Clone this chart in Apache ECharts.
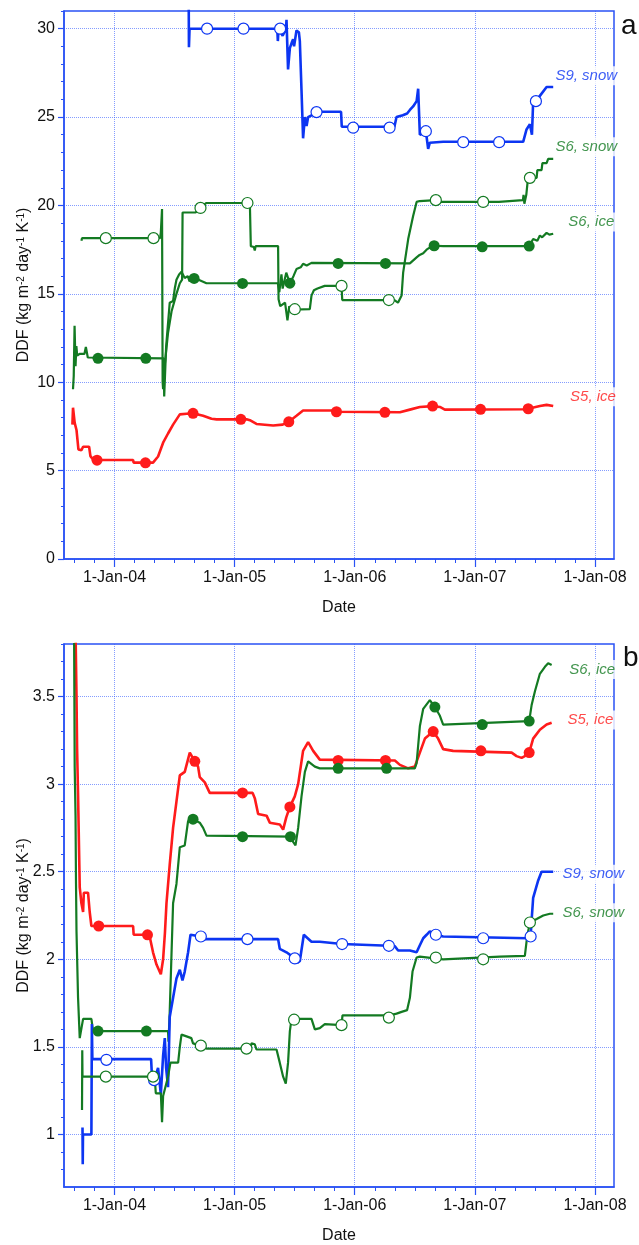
<!DOCTYPE html>
<html><head><meta charset="utf-8">
<script src="https://cdn.jsdelivr.net/npm/echarts@6/dist/echarts.min.js"></script>
<style>html,body{margin:0;padding:0;background:#fff}#c{width:639px;height:1245px}</style>
</head><body><div id="c"></div>
<script>
// x values are decimal years (2004.0 = 1-Jan-04)
const yearTicks = [2004, 2005, 2006, 2007, 2008];
const yTicksA = [0, 5, 10, 15, 20, 25, 30];
const yTicksB = [1, 1.5, 2, 2.5, 3, 3.5];
const seriesNames = ['S9, snow', 'S6, snow', 'S6, ice', 'S5, ice'];

// ---- Panel a ----
const a_s9_line = [[2004.617,33],[2004.620,28.95],[2004.625,30.0],[2005.355,30.0],[2005.360,29.3],[2005.366,30.0],[2005.380,30.0],[2005.400,29.6],[2005.428,30.0],[2005.432,30.5],[2005.445,27.7],[2005.460,28.9],[2005.475,29.2],[2005.487,29.4],[2005.495,29.0],[2005.515,29.9],[2005.535,29.8],[2005.543,29.3],[2005.557,26.5],[2005.570,23.8],[2005.585,25.0],[2005.599,24.5],[2005.612,25.0],[2005.640,25.1],[2005.668,25.3],[2005.886,25.3],[2005.892,24.45],[2006.330,24.45],[2006.348,25.0],[2006.400,25.1],[2006.436,25.2],[2006.459,25.4],[2006.486,25.6],[2006.515,25.9],[2006.528,26.6],[2006.542,24.0],[2006.570,24.1],[2006.592,24.2],[2006.611,23.2],[2006.625,23.55],[2006.736,23.6],[2007.402,23.6],[2007.430,24.3],[2007.458,24.6],[2007.475,24.0],[2007.485,25.85],[2007.508,25.9],[2007.541,26.2],[2007.597,26.7],[2007.652,26.7]];
const a_s9_marks = [[2004.771,30.0],[2005.074,30.0],[2005.379,30.0],[2005.682,25.28],[2005.987,24.4],[2006.290,24.4],[2006.592,24.2],[2006.903,23.58],[2007.202,23.58],[2007.508,25.9]];

const a_s6s_line = [[2003.725,18.0],[2003.730,18.15],[2004.380,18.15],[2004.386,18.48],[2004.393,18.5],[2004.396,19.8],[2004.401,10.0],[2004.405,9.6],[2004.419,11.0],[2004.446,12.8],[2004.475,14.0],[2004.516,15.0],[2004.544,15.6],[2004.563,15.8],[2004.567,19.6],[2004.677,19.6],[2004.690,19.75],[2004.716,19.86],[2004.738,20.0],[2004.766,20.14],[2005.127,20.14],[2005.135,17.7],[2005.160,17.65],[2005.168,17.45],[2005.175,17.7],[2005.362,17.7],[2005.366,14.7],[2005.380,14.3],[2005.420,14.5],[2005.440,13.5],[2005.455,14.3],[2005.470,14.1],[2005.626,14.13],[2005.640,14.9],[2005.660,15.2],[2005.690,15.3],[2005.750,15.45],[2005.890,15.45],[2005.896,14.65],[2006.330,14.65],[2006.360,14.5],[2006.390,14.9],[2006.403,16.2],[2006.445,18.1],[2006.486,19.4],[2006.515,20.2],[2006.540,20.25],[2006.675,20.3],[2006.700,20.2],[2007.200,20.2],[2007.208,20.3],[2007.400,20.3],[2007.405,20.6],[2007.412,20.1],[2007.428,20.6],[2007.440,21.4],[2007.458,21.56],[2007.514,21.56],[2007.520,22.0],[2007.555,22.0],[2007.562,22.4],[2007.597,22.4],[2007.610,22.64],[2007.652,22.64]];
const a_s6s_marks = [[2003.928,18.15],[2004.325,18.15],[2004.716,19.86],[2005.107,20.14],[2005.501,14.13],[2005.890,15.45],[2006.284,14.65],[2006.675,20.3],[2007.069,20.2],[2007.458,21.56]];

const a_s6i_line = [[2003.655,9.6],[2003.661,10.35],[2003.668,13.2],[2003.676,10.9],[2003.683,12.05],[2003.690,11.5],[2003.710,11.6],[2003.750,11.6],[2003.762,12.0],[2003.778,11.4],[2004.410,11.35],[2004.414,9.2],[2004.430,12.0],[2004.460,14.5],[2004.488,14.6],[2004.502,15.3],[2004.516,15.8],[2004.538,16.1],[2004.558,16.25],[2004.585,15.9],[2004.610,16.0],[2004.625,15.7],[2004.640,15.95],[2004.663,15.87],[2004.700,15.8],[2004.766,15.6],[2005.360,15.6],[2005.372,15.1],[2005.390,16.1],[2005.400,15.3],[2005.430,16.2],[2005.460,15.6],[2005.490,16.0],[2005.515,16.4],[2005.550,16.5],[2005.570,16.7],[2005.600,16.6],[2005.640,16.75],[2006.459,16.72],[2006.515,17.06],[2006.540,17.2],[2006.570,17.3],[2006.598,17.5],[2006.620,17.6],[2006.661,17.72],[2006.736,17.7],[2007.452,17.7],[2007.485,18.1],[2007.520,18.0],[2007.541,18.3],[2007.560,18.2],[2007.597,18.45],[2007.620,18.35],[2007.652,18.4]];
const a_s6i_marks = [[2003.863,11.35],[2004.261,11.35],[2004.663,15.87],[2005.066,15.59],[2005.460,15.6],[2005.862,16.72],[2006.256,16.72],[2006.661,17.72],[2007.061,17.66],[2007.452,17.7]];

const a_s5_line = [[2003.650,7.6],[2003.655,8.56],[2003.669,7.7],[2003.684,7.3],[2003.700,6.2],[2003.725,6.15],[2003.739,6.35],[2003.789,6.35],[2003.800,5.82],[2003.825,5.6],[2004.155,5.6],[2004.160,5.45],[2004.321,5.45],[2004.363,5.8],[2004.405,6.58],[2004.446,7.1],[2004.488,7.6],[2004.544,8.18],[2004.600,8.22],[2004.654,8.24],[2004.738,8.1],[2004.808,7.93],[2004.850,7.9],[2005.100,7.9],[2005.127,7.85],[2005.182,7.64],[2005.321,7.55],[2005.400,7.6],[2005.451,7.76],[2005.515,8.1],[2005.570,8.4],[2005.820,8.4],[2005.848,8.33],[2006.376,8.3],[2006.459,8.45],[2006.542,8.6],[2006.648,8.65],[2006.709,8.6],[2006.750,8.45],[2007.402,8.47],[2007.444,8.5],[2007.541,8.65],[2007.597,8.72],[2007.652,8.65]];
const a_s5_marks = [[2003.855,5.59],[2004.258,5.44],[2004.654,8.24],[2005.052,7.9],[2005.451,7.76],[2005.848,8.33],[2006.251,8.3],[2006.648,8.65],[2007.047,8.47],[2007.444,8.5]];

// ---- Panel b ----
const b_s5_line = [[2003.667,4.3],[2003.684,3.5],[2003.689,3.2],[2003.697,2.94],[2003.711,2.41],[2003.725,2.32],[2003.739,2.27],[2003.745,2.38],[2003.780,2.38],[2003.794,2.27],[2003.808,2.19],[2004.155,2.19],[2004.160,2.14],[2004.290,2.14],[2004.321,2.04],[2004.350,1.97],[2004.386,1.915],[2004.405,2.0],[2004.420,2.15],[2004.433,2.32],[2004.460,2.54],[2004.488,2.75],[2004.516,2.90],[2004.544,3.05],[2004.585,3.07],[2004.627,3.18],[2004.669,3.13],[2004.696,3.10],[2004.710,3.04],[2004.752,3.01],[2004.793,2.95],[2005.150,2.95],[2005.168,2.92],[2005.196,2.83],[2005.266,2.82],[2005.293,2.78],[2005.376,2.77],[2005.404,2.74],[2005.430,2.81],[2005.460,2.87],[2005.501,2.93],[2005.529,3.0],[2005.570,3.19],[2005.612,3.24],[2005.654,3.19],[2005.709,3.14],[2006.334,3.135],[2006.376,3.11],[2006.445,3.09],[2006.500,3.10],[2006.542,3.18],[2006.584,3.26],[2006.653,3.30],[2006.694,3.26],[2006.736,3.20],[2006.819,3.19],[2007.306,3.18],[2007.347,3.16],[2007.389,3.15],[2007.416,3.16],[2007.452,3.18],[2007.485,3.26],[2007.541,3.31],[2007.597,3.34],[2007.639,3.35]];
const b_s5_marks = [[2003.869,2.19],[2004.275,2.14],[2004.669,3.13],[2005.066,2.95],[2005.460,2.87],[2005.862,3.135],[2006.256,3.135],[2006.653,3.30],[2007.050,3.19],[2007.452,3.18]];

const b_s6i_line = [[2003.661,4.3],[2003.669,3.1],[2003.676,2.82],[2003.680,2.43],[2003.684,2.16],[2003.697,1.78],[2003.711,1.55],[2003.725,1.55],[2003.739,1.66],[2003.808,1.66],[2003.822,1.59],[2004.446,1.59],[2004.450,1.53],[2004.460,1.70],[2004.488,2.32],[2004.516,2.43],[2004.544,2.64],[2004.585,2.65],[2004.613,2.79],[2004.654,2.80],[2004.710,2.78],[2004.738,2.75],[2004.766,2.706],[2005.470,2.70],[2005.487,2.67],[2005.507,2.65],[2005.529,2.75],[2005.557,2.93],[2005.585,3.07],[2005.612,3.13],[2005.668,3.10],[2005.709,3.09],[2006.500,3.09],[2006.515,3.12],[2006.542,3.33],[2006.570,3.43],[2006.625,3.48],[2006.667,3.44],[2006.709,3.39],[2006.736,3.34],[2007.452,3.36],[2007.472,3.45],[2007.500,3.53],[2007.541,3.63],[2007.583,3.67],[2007.610,3.69],[2007.639,3.68]];
const b_s6i_marks = [[2003.863,1.59],[2004.266,1.59],[2004.654,2.80],[2005.066,2.70],[2005.465,2.70],[2005.862,3.09],[2006.265,3.09],[2006.667,3.44],[2007.061,3.34],[2007.452,3.36]];

const b_s9_line = [[2003.734,1.04],[2003.736,0.83],[2003.738,1.0],[2003.808,1.0],[2003.812,1.63],[2003.816,1.43],[2004.305,1.43],[2004.310,1.36],[2004.330,1.31],[2004.363,1.38],[2004.386,1.23],[2004.405,1.45],[2004.419,1.55],[2004.430,1.38],[2004.446,1.27],[2004.460,1.67],[2004.488,1.78],[2004.516,1.89],[2004.544,1.94],[2004.566,1.88],[2004.585,1.93],[2004.613,2.04],[2004.633,2.14],[2004.719,2.13],[2004.752,2.115],[2005.362,2.115],[2005.376,2.06],[2005.432,2.04],[2005.501,2.005],[2005.524,1.98],[2005.543,1.99],[2005.576,2.14],[2005.640,2.10],[2005.709,2.10],[2005.895,2.087],[2006.284,2.077],[2006.334,2.075],[2006.361,2.05],[2006.459,2.05],[2006.515,2.04],[2006.542,2.08],[2006.570,2.12],[2006.598,2.14],[2006.625,2.16],[2006.675,2.14],[2006.736,2.13],[2007.440,2.12],[2007.464,2.13],[2007.475,2.25],[2007.485,2.35],[2007.527,2.45],[2007.555,2.50],[2007.652,2.50]];
const b_s9_marks = [[2003.933,1.426],[2004.330,1.31],[2004.719,2.13],[2005.107,2.115],[2005.501,2.005],[2005.895,2.087],[2006.284,2.077],[2006.675,2.14],[2007.069,2.12],[2007.464,2.13]];

const b_s6s_line = [[2003.730,1.14],[2003.732,1.48],[2003.734,1.33],[2004.335,1.33],[2004.344,1.235],[2004.386,1.235],[2004.396,1.07],[2004.405,1.22],[2004.446,1.33],[2004.466,1.41],[2004.530,1.41],[2004.544,1.50],[2004.558,1.57],[2004.600,1.56],[2004.640,1.55],[2004.654,1.52],[2004.719,1.507],[2004.766,1.49],[2005.130,1.49],[2005.141,1.52],[2005.168,1.515],[2005.182,1.485],[2005.349,1.485],[2005.376,1.41],[2005.404,1.33],[2005.426,1.29],[2005.445,1.41],[2005.460,1.59],[2005.474,1.66],[2005.640,1.66],[2005.668,1.60],[2005.709,1.607],[2005.751,1.63],[2005.890,1.624],[2005.898,1.68],[2006.290,1.68],[2006.348,1.69],[2006.390,1.70],[2006.436,1.71],[2006.459,1.78],[2006.481,1.93],[2006.515,2.01],[2006.542,2.015],[2006.736,2.0],[2007.208,2.015],[2007.416,2.02],[2007.435,2.13],[2007.458,2.21],[2007.514,2.23],[2007.569,2.25],[2007.624,2.26],[2007.652,2.26]];
const b_s6s_marks = [[2003.928,1.33],[2004.321,1.33],[2004.719,1.507],[2005.099,1.49],[2005.495,1.655],[2005.890,1.624],[2006.284,1.667],[2006.675,2.01],[2007.069,2.0],[2007.458,2.21]];

// ---- styling / layout ----
const BLUE = '#0c35f2', GREEN = '#137a22', RED = '#ff1b1b';
const AX = '#2a52f5', GRIDC = 'rgba(50,90,255,0.6)';
const FONT = '"Liberation Sans", Arial, Helvetica, sans-serif';
const XMIN = 2003.58, XMAX = 2008.158;

const minorX = [];
for (let m = 8; m <= 62; m += 2) { const v = 2003 + m / 12; if (v <= XMAX) minorX.push(+v.toFixed(4)); }
const minorYA = []; for (let v = 1; v <= 31; v++) minorYA.push(v);
const minorYB = []; for (let k = 8; k <= 38; k++) minorYB.push(+(k / 10).toFixed(1));

const yName = 'DDF (kg m{sup|-2} day{sup|-1} K{sup|-1})';

function xAxes(g) {
  return [{
    type: 'value', gridIndex: g, min: XMIN, max: XMAX,
    name: 'Date', nameLocation: 'middle', nameGap: 41, nameMoveOverlap: false,
    nameTextStyle: { fontSize: 16, color: '#111', fontFamily: FONT },
    axisLine: { show: true, onZero: false, lineStyle: { color: AX, width: 1.5 } },
    axisTick: { show: true, length: 8, customValues: yearTicks, lineStyle: { color: AX, width: 1.2 } },
    axisLabel: { customValues: yearTicks, fontSize: 16, color: '#111', fontFamily: FONT, margin: 11,
      formatter: v => '1-Jan-' + String(Math.round(v)).slice(2) },
    splitLine: { show: true, lineStyle: { color: GRIDC, width: 1, type: 'dotted' } }
  }, {
    type: 'value', gridIndex: g, min: XMIN, max: XMAX, position: 'bottom',
    axisLine: { show: false }, axisLabel: { show: false }, splitLine: { show: false },
    axisTick: { show: true, length: 4, customValues: minorX, lineStyle: { color: AX, width: 1 } }
  }];
}
function yAxes(g, min, max, ticks, minor) {
  return [{
    type: 'value', gridIndex: g, min, max, position: 'left',
    name: yName, nameLocation: 'middle', nameGap: 32, nameRotate: 90, nameMoveOverlap: false,
    nameTextStyle: { fontSize: 16, color: '#111', fontFamily: FONT,
      rich: { sup: { fontSize: 10, color: '#111', fontFamily: FONT, verticalAlign: 'top', padding: [0, 0, 6, 0] } } },
    axisLine: { show: true, onZero: false, lineStyle: { color: AX, width: 1.5 } },
    axisTick: { show: true, length: 6, customValues: ticks, lineStyle: { color: AX, width: 1.2 } },
    axisLabel: { customValues: ticks, fontSize: 16, color: '#111', fontFamily: FONT, margin: 9 },
    splitLine: { show: true, lineStyle: { color: GRIDC, width: 1, type: 'dotted' } }
  }, {
    type: 'value', gridIndex: g, min, max, position: 'left',
    axisLine: { show: false }, axisLabel: { show: false }, splitLine: { show: false },
    axisTick: { show: true, length: 3, customValues: minor, lineStyle: { color: AX, width: 1 } }
  }];
}
function line(data, color, width, g) {
  return { type: 'line', xAxisIndex: g * 2, yAxisIndex: g * 2, data, showSymbol: false, symbol: 'none',
    lineStyle: { color, width }, itemStyle: { color }, z: 3, silent: true, clip: true };
}
function marks(data, color, filled, g) {
  return { type: 'scatter', xAxisIndex: g * 2, yAxisIndex: g * 2, data, symbol: 'circle', symbolSize: 11,
    itemStyle: { color: filled ? color : '#ffffff', borderColor: color, borderWidth: filled ? 0 : 1.2, opacity: 1 },
    z: 4, silent: true };
}
function tag(name, x, y, color, g) {
  return { type: 'scatter', xAxisIndex: g * 2, yAxisIndex: g * 2, symbolSize: 1, z: 6, silent: true,
    itemStyle: { color: 'rgba(0,0,0,0)' },
    data: [{ name, value: [x, y] }],
    label: { show: true, position: 'right', distance: 0, formatter: '{b}', color, fontSize: 15,
      fontStyle: 'italic', fontFamily: FONT, backgroundColor: '#fff', padding: [2, 3] } };
}

const option = {
  animation: false,
  backgroundColor: '#fff',
  title: [
    { text: 'a', left: 621, top: 12, padding: 0, textStyle: { fontSize: 28, fontWeight: 'normal', color: '#111', fontFamily: FONT } },
    { text: 'b', left: 623, top: 644, padding: 0, textStyle: { fontSize: 28, fontWeight: 'normal', color: '#111', fontFamily: FONT } }
  ],
  grid: [
    { left: 64, top: 11, width: 550, height: 548, show: true, borderColor: AX, borderWidth: 1.5, backgroundColor: 'transparent' },
    { left: 64, top: 644, width: 550, height: 548, show: true, borderColor: AX, borderWidth: 1.5, backgroundColor: 'transparent' }
  ],
  xAxis: [...xAxes(0), ...xAxes(1)],
  yAxis: [...yAxes(0, 0, 31, yTicksA, minorYA), ...yAxes(1, 0.7, 3.8, yTicksB, minorYB)],
  series: [
    line(a_s9_line, BLUE, 2.6, 0), line(a_s6s_line, GREEN, 2.2, 0), line(a_s6i_line, GREEN, 2.2, 0), line(a_s5_line, RED, 2.6, 0),
    marks(a_s9_marks, BLUE, false, 0), marks(a_s6s_marks, GREEN, false, 0), marks(a_s6i_marks, GREEN, true, 0), marks(a_s5_marks, RED, true, 0),
    tag(seriesNames[0], 2007.641, 27.34, BLUE, 0), tag(seriesNames[1], 2007.641, 23.32, GREEN, 0),
    tag(seriesNames[2], 2007.749, 19.06, GREEN, 0), tag(seriesNames[3], 2007.763, 9.18, RED, 0),

    line(b_s5_line, RED, 2.6, 1), line(b_s6i_line, GREEN, 2.2, 1), line(b_s9_line, BLUE, 2.6, 1), line(b_s6s_line, GREEN, 2.2, 1),
    marks(b_s5_marks, RED, true, 1), marks(b_s6i_marks, GREEN, true, 1), marks(b_s9_marks, BLUE, false, 1), marks(b_s6s_marks, GREEN, false, 1),
    tag(seriesNames[2], 2007.757, 3.654, GREEN, 1), tag(seriesNames[3], 2007.741, 3.366, RED, 1),
    tag(seriesNames[0], 2007.700, 2.486, BLUE, 1), tag(seriesNames[1], 2007.700, 2.266, GREEN, 1)
  ]
};
const chart = echarts.init(document.getElementById('c'), null, { renderer: 'canvas' });
chart.setOption(option);
</script>
</body></html>
